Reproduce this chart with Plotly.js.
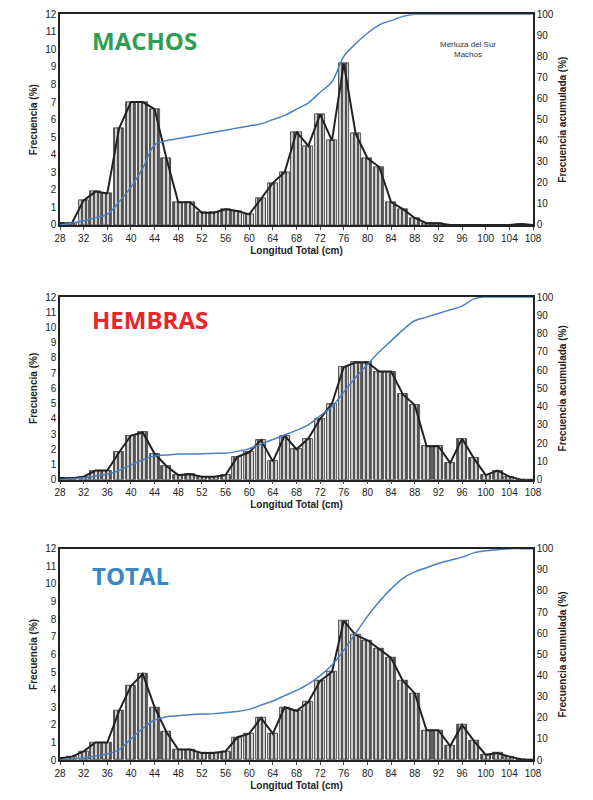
<!DOCTYPE html>
<html>
<head>
<meta charset="utf-8">
<script src="https://cdn.plot.ly/plotly-3.0.1.min.js"></script>
<style>body{margin:0;background:#fff}</style>
</head>
<body>
<div id="plot" style="width:593px;height:800px"></div>
<script>
// longitudes (cm), cada 2 cm
const lengths = [28,30,32,34,36,38,40,42,44,46,48,50,52,54,56,58,60,62,64,66,68,70,72,74,76,78,80,82,84,86,88,90,92,94,96,98,100,102,104,106,108];

const machosFreq = [0.1,0.1,1.4,1.9,1.8,5.5,7,7,6.6,3.8,1.3,1.3,0.7,0.7,0.9,0.8,0.6,1.5,2.4,3,5.3,4.5,6.3,4.8,9.2,5.2,3.8,3.3,1.3,0.9,0.4,0.1,0.1,0,0,0,0,0,0,0.05,0];
const machosCum  = [0,1,2,3.5,5,11,18,27,38,40,41,42,43,44,45,46,47,48,50,52,55,58,63,68,80,86,91,95,97,99,100,100,100,100,100,100,100,100,100,100,100];

const hembrasFreq = [0.1,0.1,0.2,0.6,0.6,1.8,2.9,3.1,1.7,0.9,0.3,0.35,0.2,0.2,0.3,1.5,1.8,2.6,1.2,2.9,2,2.7,4,5,7.4,7.7,7.7,7.1,7.1,5.6,4.9,2.2,2.2,1.1,2.7,1.4,0.3,0.6,0.2,0,0];
const hembrasCum  = [0,0.5,1,2,3,5,8,11,13,13.5,14,14,14.2,14.4,14.5,15.5,17,19.5,22,24.5,27,30,35,40,48,56,63,70,76,82,87,89,91,93,95,99,100,100,100,100,100];

const totalFreq = [0.1,0.2,0.5,1,1,2.8,4.2,4.9,3,1.6,0.6,0.6,0.4,0.4,0.5,1.3,1.5,2.4,1.5,3,2.8,3.3,4.5,5,7.9,7.1,6.8,6.3,5.8,4.5,3.8,1.7,1.7,0.8,2,1.1,0.3,0.4,0.2,0.05,0];
const totalCum  = [0,0.5,1,2,3,5,10,15,19,20.5,21,21.5,21.8,22,22.5,23,24,26,28,30.5,33,36,40,45,52,60,68,75,81,86,89,91,93,94.5,96,98,99,99.5,100,100,100];

const panels = [
  {freq: machosFreq, cum: machosCum, label: 'MACHOS', color: '#2f9e55'},
  {freq: hembrasFreq, cum: hembrasCum, label: 'HEMBRAS', color: '#e8262b'},
  {freq: totalFreq, cum: totalCum, label: 'TOTAL', color: '#3a87c8'}
];
const domains = [[0.719, 0.997], [0.383, 0.624], [0.013, 0.292]];
const tickVals = [];
for (let v = 28; v <= 108; v += 4) tickVals.push(v);

const traces = [];
const layout = {
  margin: {l: 60, r: 60, t: 12, b: 30},
  paper_bgcolor: '#fff', plot_bgcolor: '#fff',
  showlegend: false,
  font: {family: 'Liberation Sans, Arial', size: 10, color: '#222'},
  annotations: [],
  bargap: 0
};

panels.forEach((p, i) => {
  const n = i + 1;
  const xa = n === 1 ? 'x' : 'x' + n;
  const ya = 'y' + (2 * n - 1 === 1 ? '' : 2 * n - 1);
  const ya2 = 'y' + (2 * n);
  traces.push({
    type: 'bar', x: lengths, y: p.freq, xaxis: xa, yaxis: ya, width: 1.7,
    marker: {color: '#bdbdbd', line: {color: '#333', width: 0.8},
             pattern: {shape: '|', fgcolor: '#333', bgcolor: '#d0d0d0', size: 4, solidity: 0.4}}
  });
  traces.push({
    type: 'scatter', mode: 'lines', x: lengths, y: p.freq, xaxis: xa, yaxis: ya,
    line: {color: '#222', width: 2}
  });
  traces.push({
    type: 'scatter', mode: 'lines', x: lengths, y: p.cum, xaxis: xa, yaxis: ya2,
    line: {color: '#4a7fc0', width: 1.5, shape: 'spline'}
  });
  const xk = n === 1 ? 'xaxis' : 'xaxis' + n;
  const yk = n === 1 ? 'yaxis' : 'yaxis' + (2 * n - 1);
  const yk2 = 'yaxis' + (2 * n);
  layout[xk] = {
    domain: [0, 1], anchor: ya, range: [28, 108],
    tickvals: tickVals, ticks: 'outside', ticklen: 3,
    showline: true, linecolor: '#222', linewidth: 1.5, mirror: true, showgrid: false, zeroline: false,
    title: {text: '<b>Longitud Total (cm)</b>', font: {size: 10}, standoff: 4}
  };
  layout[yk] = {
    domain: domains[i], anchor: xa, range: [0, 12], dtick: 1,
    showgrid: false, zeroline: false, showline: true, linecolor: '#222', linewidth: 1.5,
    ticks: '', title: {text: '<b>Frecuencia (%)</b>', font: {size: 10}, standoff: 6}
  };
  layout[yk2] = {
    overlaying: ya, side: 'right', anchor: xa, range: [0, 100], dtick: 10,
    showgrid: false, zeroline: false, showline: true, linecolor: '#222', linewidth: 1.5,
    ticks: '', title: {text: '<b>Frecuencia acumulada (%)</b>', font: {size: 10}, standoff: 6}
  };
  layout.annotations.push({
    xref: xa, yref: ya, x: 33, y: 10.5, xanchor: 'left', yanchor: 'middle', showarrow: false,
    text: '<b>' + p.label + '</b>', font: {size: 24, color: p.color, family: 'Open Sans, Liberation Sans'}
  });
});
layout.annotations.push({
  xref: 'x', yref: 'y', x: 97, y: 10, showarrow: false,
  text: 'Merluza del Sur<br>Machos', font: {size: 8, color: '#333'}
});

Plotly.newPlot('plot', traces, layout, {displayModeBar: false});
</script>
</body>
</html>
